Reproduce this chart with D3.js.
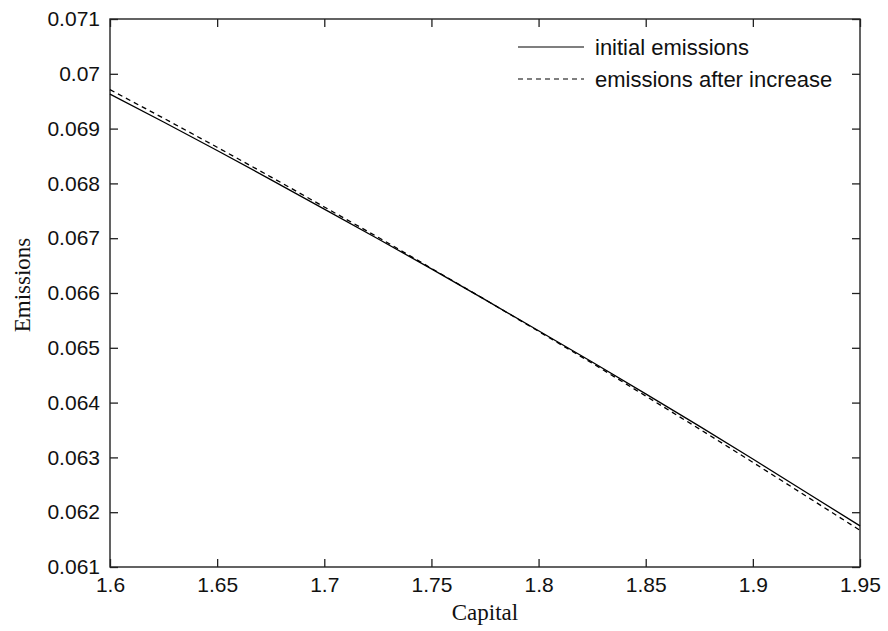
<!DOCTYPE html>
<html><head><meta charset="utf-8">
<script src="https://cdn.jsdelivr.net/npm/d3@7"></script>
<style>body{margin:0;background:#fff}svg{display:block}</style>
</head><body><svg id="c" width="888" height="631"></svg>
<script>
const capital = [1.6,1.625,1.65,1.675,1.7,1.725,1.75,1.775,1.8,1.825,1.85,1.875,1.9,1.925,1.95];
const initialEmissions = [0.06963,0.06912,0.06860,0.06807,0.06753,0.06699,0.06644,0.06588,0.06531,0.06474,0.06416,0.06357,0.06297,0.06236,0.06175];
const emissionsAfter = [0.06971,0.06919,0.06866,0.06812,0.06757,0.06702,0.06645,0.06588,0.06530,0.06472,0.06412,0.06352,0.06291,0.06229,0.06167];
const xTicks = [1.6,1.65,1.7,1.75,1.8,1.85,1.9,1.95];
const yTicks = [0.061,0.062,0.063,0.064,0.065,0.066,0.067,0.068,0.069,0.07,0.071];
const seriesNames = ["initial emissions","emissions after increase"];

const L=110,R=860,T=19,B=567;
const svg=d3.select("#c");
const x=d3.scaleLinear().domain([1.6,1.95]).range([L,R]);
const y=d3.scaleLinear().domain([0.061,0.071]).range([B,T]);
const fmt=d3.format("~g");
const tickFont="'Liberation Sans', Arial, sans-serif";

function styleAxis(g){
  g.select(".domain").remove();
  g.selectAll(".tick line").attr("stroke","#222").attr("stroke-width",1.3);
  g.selectAll(".tick text").attr("font-family",tickFont).attr("font-size","21px").attr("fill","#111");
}
svg.append("g").attr("transform",`translate(0,${B})`)
  .call(d3.axisBottom(x).tickValues(xTicks).tickFormat(fmt).tickSizeInner(-8).tickSizeOuter(0).tickPadding(10))
  .call(styleAxis);
svg.append("g").attr("transform",`translate(0,${T})`)
  .call(d3.axisTop(x).tickValues(xTicks).tickFormat("").tickSizeInner(-8).tickSizeOuter(0))
  .call(styleAxis);
svg.append("g").attr("transform",`translate(${L},0)`)
  .call(d3.axisLeft(y).tickValues(yTicks).tickFormat(fmt).tickSizeInner(-8).tickSizeOuter(0).tickPadding(10))
  .call(styleAxis);
svg.append("g").attr("transform",`translate(${R},0)`)
  .call(d3.axisRight(y).tickValues(yTicks).tickFormat("").tickSizeInner(-8).tickSizeOuter(0))
  .call(styleAxis);

svg.append("rect").attr("x",L).attr("y",T).attr("width",R-L).attr("height",B-T)
  .attr("fill","none").attr("stroke","#222").attr("stroke-width",1.4);

const line=d3.line().x((d,i)=>x(capital[i])).y(d=>y(d));
svg.append("path").datum(initialEmissions).attr("d",line)
  .attr("fill","none").attr("stroke","#000").attr("stroke-width",1.3);
svg.append("path").datum(emissionsAfter).attr("d",line)
  .attr("fill","none").attr("stroke","#000").attr("stroke-width",1.3).attr("stroke-dasharray","5,4");

const leg=svg.append("g");
const dashes=[null,"5,4"];
seriesNames.forEach((n,i)=>{
  const yy=47+i*32;
  leg.append("line").attr("x1",518).attr("x2",584).attr("y1",yy).attr("y2",yy)
    .attr("stroke","#000").attr("stroke-width",1.2).attr("stroke-dasharray",dashes[i]);
  leg.append("text").attr("x",595).attr("y",yy+8).text(n)
    .attr("font-family",tickFont).attr("font-size","22px").attr("fill","#111");
});

svg.append("text").attr("x",(L+R)/2).attr("y",620).attr("text-anchor","middle")
  .attr("font-family","'Liberation Serif','Times New Roman',serif").attr("font-size","23px").attr("fill","#111").text("Capital");
svg.append("text").attr("transform",`translate(30,${(T+B)/2-8}) rotate(-90)`).attr("text-anchor","middle")
  .attr("font-family","'Liberation Serif','Times New Roman',serif").attr("font-size","23px").attr("fill","#111").text("Emissions");
</script></body></html>
